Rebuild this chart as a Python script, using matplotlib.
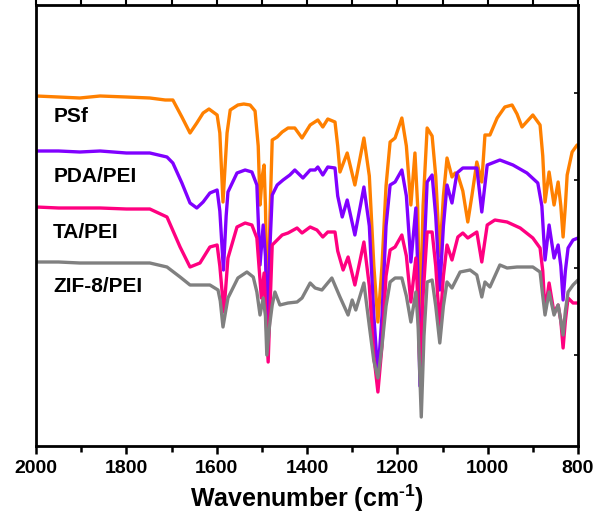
import matplotlib
matplotlib.use("Agg")
import matplotlib.pyplot as plt
from matplotlib.ticker import MultipleLocator, FixedLocator

plt.rcParams['font.family'] = ['Liberation Sans', 'DejaVu Sans']
plt.rcParams['mathtext.fontset'] = 'custom'
plt.rcParams['mathtext.rm'] = 'Liberation Sans:bold'
plt.rcParams['mathtext.bf'] = 'Liberation Sans:bold'
plt.rcParams['mathtext.it'] = 'Liberation Sans:bold'

# ---- data (wavenumber in cm-1, arbitrary offset transmittance) ----
psf_wn = [2000, 1950, 1903, 1858, 1800, 1748, 1714, 1697, 1677, 1659, 1644, 1630, 1617, 1599,
          1593, 1586, 1577, 1570, 1553, 1540, 1526, 1515, 1508, 1504, 1499, 1495, 1492, 1487,
          1482, 1477, 1466, 1455, 1442, 1427, 1411, 1393, 1376, 1365, 1354, 1338, 1332, 1327,
          1311, 1294, 1274, 1262, 1252, 1243, 1234, 1225, 1216, 1205, 1190, 1180, 1170, 1161,
          1155, 1150, 1143, 1134, 1123, 1115, 1106, 1098, 1090, 1079, 1072, 1066, 1055, 1044,
          1035, 1024, 1013, 1006, 995, 979, 962, 946, 935, 924, 900, 884, 878, 873, 864, 853,
          844, 838, 833, 828, 824, 813, 802]
psf_t = [350, 349, 348, 350, 349, 348, 346, 346, 329, 313, 323, 333, 337, 331,
         313, 244, 313, 336, 341, 342, 341, 335, 300, 241, 270, 281, 240, 116,
         230, 306, 309, 314, 318, 318, 308, 321, 326, 319, 327, 324, 300, 274,
         293, 261, 308, 270, 180, 124, 180, 260, 304, 308, 328, 300, 241, 293,
         240, 116, 240, 318, 310, 270, 190, 250, 288, 269, 273, 271, 255, 224,
         250, 284, 264, 311, 311, 328, 339, 341, 332, 319, 331, 321, 290, 244, 274, 241,
         264, 240, 209, 240, 271, 294, 301]

pda_wn = [2000, 1950, 1903, 1858, 1800, 1748, 1710, 1697, 1677, 1659, 1644, 1630, 1615, 1599,
          1593, 1585, 1579, 1575, 1555, 1537, 1522, 1511, 1504, 1497, 1492, 1487, 1482, 1477,
          1466, 1453, 1438, 1427, 1409, 1393, 1382, 1376, 1365, 1354, 1338, 1332, 1322, 1311,
          1294, 1274, 1262, 1252, 1243, 1234, 1225, 1216, 1205, 1190, 1180, 1170, 1159, 1155,
          1150, 1143, 1134, 1123, 1115, 1106, 1098, 1090, 1079, 1068, 1055, 1024, 1013, 1001,
          973, 944, 913, 889, 880, 873, 864, 853, 844, 838, 833, 828, 822, 811, 800]
pda_t = [295, 295, 294, 295, 293, 293, 289, 283, 263, 243, 238, 244, 253, 256,
         235, 176, 230, 254, 273, 276, 274, 261, 181, 221, 190, 100, 200, 251,
         261, 266, 271, 276, 268, 276, 276, 279, 271, 279, 278, 250, 229, 246,
         211, 259, 220, 130, 71, 130, 220, 261, 264, 276, 250, 184, 238, 180,
         60, 170, 264, 271, 230, 156, 220, 261, 243, 273, 278, 278, 234, 281,
         286, 281, 273, 263, 240, 186, 221, 188, 201, 180, 146, 175, 198, 206, 208]

ta_wn = [2000, 1950, 1903, 1858, 1800, 1748, 1710, 1681, 1659, 1637, 1615, 1599, 1593, 1584,
         1578, 1575, 1555, 1537, 1522, 1511, 1501, 1495, 1491, 1486, 1481, 1477, 1466, 1455,
         1442, 1422, 1411, 1393, 1378, 1365, 1354, 1338, 1332, 1320, 1309, 1294, 1274, 1262,
         1252, 1243, 1234, 1225, 1216, 1205, 1190, 1180, 1170, 1159, 1155, 1150, 1143, 1134,
         1123, 1115, 1106, 1098, 1090, 1079, 1066, 1055, 1044, 1024, 1013, 1001, 984, 957,
         928, 900, 884, 878, 873, 864, 853, 844, 838, 833, 828, 822, 811, 800]
ta_t = [239, 238, 238, 238, 237, 237, 229, 199, 179, 183, 199, 201, 180, 134,
        170, 188, 219, 223, 221, 208, 148, 173, 130, 84, 150, 201, 206, 211,
        213, 218, 213, 219, 216, 209, 214, 214, 195, 176, 189, 161, 204, 160,
        90, 54, 100, 170, 196, 199, 211, 190, 144, 188, 150, 76, 150, 214,
        214, 180, 118, 170, 201, 186, 209, 213, 208, 214, 184, 221, 226, 224,
        218, 208, 198, 175, 134, 163, 133, 141, 125, 98, 125, 148, 143, 143]

zif_wn = [2000, 1950, 1903, 1858, 1800, 1748, 1710, 1681, 1659, 1637, 1615, 1597, 1592, 1586,
          1580, 1575, 1553, 1533, 1519, 1511, 1504, 1497, 1492, 1489, 1483, 1477, 1471, 1460,
          1442, 1422, 1411, 1393, 1382, 1367, 1345, 1327, 1309, 1300, 1292, 1274, 1262, 1252,
          1243, 1234, 1225, 1216, 1205, 1190, 1180, 1170, 1159, 1154, 1147, 1141, 1134, 1123,
          1115, 1106, 1098, 1090, 1079, 1061, 1039, 1024, 1013, 1006, 995, 973, 957, 935, 900,
          884, 878, 873, 864, 853, 844, 838, 833, 828, 822, 811, 800]
zif_t = [184, 184, 183, 183, 183, 183, 179, 169, 161, 161, 161, 156, 145, 119,
         135, 148, 168, 174, 169, 154, 131, 148, 130, 91, 120, 141, 154, 141,
         143, 144, 148, 163, 158, 156, 168, 149, 131, 146, 136, 163, 120, 85,
         68, 100, 140, 164, 168, 168, 150, 124, 154, 120, 29, 110, 164, 166,
         140, 103, 140, 164, 158, 174, 176, 171, 149, 164, 159, 181, 178, 179, 179,
         174, 150, 131, 154, 131, 141, 125, 111, 135, 154, 161, 166]

labels = ["PSf", "PDA/PEI", "TA/PEI", "ZIF-8/PEI"]
colors = ["#FF8000", "#8000FF", "#FF0080", "#808080"]
label_pos = [(1962, 329), (1962, 270), (1962, 214), (1962, 159)]

fig = plt.figure(figsize=(5.97, 5.29), dpi=100)
ax = fig.add_axes([36 / 597, 1 - 446 / 529, 542 / 597, 441 / 529])

series = [(psf_wn, psf_t), (pda_wn, pda_t), (ta_wn, ta_t), (zif_wn, zif_t)]
for i in range(4):
    wn, t = series[i]
    ax.plot(wn, t, color=colors[i], lw=2.4, solid_joinstyle='round', solid_capstyle='round')

for lab, (x, y) in zip(labels, label_pos):
    ax.text(x, y, lab, fontsize=15, fontweight='bold', va='center', ha='left')

ax.set_xlim(2000, 800)
ax.set_ylim(0, 441)
ax.xaxis.set_minor_locator(MultipleLocator(100))
ax.set_xticks([2000, 1800, 1600, 1400, 1200, 1000, 800])
ax.set_xticklabels(["2000", "1800", "1600", "1400", "1200", "1000", "800"])
ax.tick_params(axis='x', which='major', direction='out', length=6, width=1.8,
               labelsize=14, pad=4, top=False)
ax.tick_params(axis='x', which='minor', direction='out', length=4, width=1.8, top=False)
for lab in ax.get_xticklabels():
    lab.set_fontweight('bold')

# top ticks
sec = ax.secondary_xaxis('top')
sec.set_xticks(list(range(2000, 799, -100)))
sec.tick_params(direction='out', length=4, width=1.5, labeltop=False)
sec.set_xticklabels([])
sec.spines['top'].set_visible(False)

ax.yaxis.set_major_locator(FixedLocator([91, 178.5, 266, 353.5]))
ax.yaxis.set_ticks_position('right')
ax.tick_params(axis='y', which='both', left=False, right=True, direction='in', length=3,
               width=1.2, labelleft=False, labelright=False)

for s in ax.spines.values():
    s.set_linewidth(2.0)

ax.set_xlabel("Wavenumber (cm$^{\\mathbf{\u2010}\\mathbf{1}}$)", fontsize=18,
              fontweight='bold', labelpad=4)

fig.savefig("out.png", dpi=100)
